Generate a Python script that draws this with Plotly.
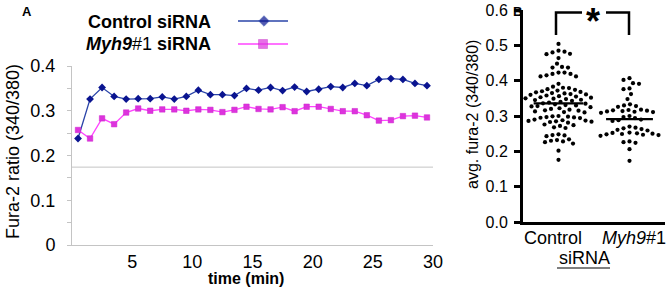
import plotly.graph_objects as go

# ---------------- DATA ----------------
time_min = [t + 0.5 for t in range(30)]
control_ratio = [0.238, 0.326, 0.352, 0.332, 0.326, 0.327, 0.327, 0.331, 0.326, 0.332,
                 0.346, 0.336, 0.336, 0.334, 0.350, 0.346, 0.352, 0.345, 0.353, 0.343,
                 0.348, 0.354, 0.352, 0.361, 0.356, 0.370, 0.372, 0.370, 0.361, 0.356]
myh9_ratio = [0.257, 0.238, 0.283, 0.270, 0.296, 0.305, 0.300, 0.303, 0.303, 0.300,
              0.303, 0.302, 0.297, 0.302, 0.309, 0.304, 0.303, 0.308, 0.299, 0.309,
              0.309, 0.304, 0.299, 0.299, 0.290, 0.278, 0.279, 0.288, 0.289, 0.285]
reference_level = 0.174
x_ticks_a = [5, 10, 15, 20, 25, 30]
y_ticks_a = [0, 0.1, 0.2, 0.3, 0.4]
y_ticklabels_a = ["0", "0.1", "0.2", "0.3", "0.4"]

control_avg = [0.504,
               0.485, 0.482, 0.480, 0.476, 0.475,
               0.464, 0.448,
               0.439, 0.437, 0.437,
               0.423, 0.423, 0.419, 0.419, 0.415, 0.412, 0.412,
               0.391,
               0.383, 0.380, 0.379, 0.376, 0.374,
               0.372, 0.370, 0.368, 0.367, 0.365, 0.364, 0.362, 0.361, 0.360, 0.358,
               0.356, 0.355, 0.353, 0.352, 0.350, 0.349, 0.348, 0.346, 0.345, 0.343,
               0.340, 0.338, 0.336, 0.335, 0.333, 0.331, 0.330, 0.328, 0.327, 0.325,
               0.322, 0.320, 0.318, 0.316, 0.315, 0.313, 0.311, 0.310,
               0.300, 0.299, 0.298, 0.297, 0.296, 0.295, 0.294,
               0.290, 0.288, 0.287, 0.286, 0.285, 0.284, 0.283, 0.281,
               0.276, 0.274, 0.272, 0.268, 0.266,
               0.248, 0.246, 0.245, 0.243,
               0.234, 0.232, 0.230, 0.228, 0.226, 0.222,
               0.202, 0.176]
myh9_avg = [0.407, 0.402, 0.393, 0.391, 0.378, 0.376, 0.362, 0.348,
            0.333, 0.330, 0.328, 0.326,
            0.318, 0.317, 0.316, 0.315, 0.314, 0.313, 0.312, 0.311, 0.309,
            0.300, 0.297, 0.294, 0.290, 0.288, 0.286,
            0.270, 0.267, 0.265, 0.263, 0.261, 0.259,
            0.253, 0.252, 0.251, 0.250, 0.249, 0.248, 0.247, 0.246, 0.244,
            0.228, 0.226, 0.224, 0.206, 0.173]
control_mean = 0.336
myh9_mean = 0.291
y_ticks_b = [0, 0.1, 0.2, 0.3, 0.4, 0.5, 0.6]

# ---------------- LAYOUT HELPERS ----------------
W, H = 669, 292
FONT = "Liberation Sans, Arial, sans-serif"


def pxx(x):
    return x / W


def pxy(y):
    return 1 - y / H


def beeswarm(vals, center, xscale=71.0, yscale=353.0, sep=5.8):
    placed = []
    xs = [0.0] * len(vals)
    order = sorted(range(len(vals)), key=lambda i: -vals[i])
    flip = 1
    for i in order:
        yv = vals[i] * yscale
        best = None
        k = 0
        while best is None:
            cands = [0.0] if k == 0 else [flip * k * 0.5, -flip * k * 0.5]
            for dx in cands:
                if all((dx - a) ** 2 + (yv - b) ** 2 >= sep ** 2 for a, b in placed):
                    best = dx
                    break
            k += 1
        flip = -flip
        placed.append((best, yv))
        xs[i] = center + best / xscale
    return xs


CTRL_LINE = "#2a44a8"
CTRL_MARK = "#0a1490"
MYH_LINE = "#ff44ff"
MYH_MARK = "#dd33dd"

fig = go.Figure()

# Panel A
fig.add_trace(go.Scatter(x=time_min, y=control_ratio, mode="lines+markers",
                         line=dict(color=CTRL_LINE, width=1.3),
                         marker=dict(symbol="diamond", size=6, color=CTRL_MARK),
                         xaxis="x", yaxis="y", showlegend=False))
fig.add_trace(go.Scatter(x=time_min, y=myh9_ratio, mode="lines+markers",
                         line=dict(color=MYH_LINE, width=1.3),
                         marker=dict(symbol="square", size=5.5, color=MYH_MARK,
                                     line=dict(color="#cc22cc", width=0.5)),
                         xaxis="x", yaxis="y", showlegend=False))

# Panel B
fig.add_trace(go.Scatter(x=beeswarm(control_avg, 0), y=control_avg, mode="markers",
                         marker=dict(size=4.2, color="black"),
                         xaxis="x2", yaxis="y2", showlegend=False))
fig.add_trace(go.Scatter(x=beeswarm(myh9_avg, 1), y=myh9_avg, mode="markers",
                         marker=dict(size=4.2, color="black"),
                         xaxis="x2", yaxis="y2", showlegend=False))
fig.add_trace(go.Scatter(x=[-0.35, 0.35], y=[control_mean, control_mean], mode="lines",
                         line=dict(color="black", width=2.2),
                         xaxis="x2", yaxis="y2", showlegend=False))
fig.add_trace(go.Scatter(x=[0.67, 1.33], y=[myh9_mean, myh9_mean], mode="lines",
                         line=dict(color="black", width=2.2),
                         xaxis="x2", yaxis="y2", showlegend=False))

# Legend samples in a pixel overlay
fig.add_trace(go.Scatter(x=[238, 264, 288], y=[21, 21, 21], mode="lines+markers",
                         line=dict(color=CTRL_LINE, width=1.5),
                         marker=dict(symbol="diamond", size=[0, 8, 0], color=CTRL_MARK),
                         xaxis="x3", yaxis="y3", showlegend=False, hoverinfo="skip"))
fig.add_trace(go.Scatter(x=[238, 263, 288], y=[44, 44, 44], mode="lines+markers",
                         line=dict(color=MYH_LINE, width=1.5),
                         marker=dict(symbol="square", size=[0, 9, 0], color=MYH_MARK,
                                     line=dict(color="#c020c0", width=0.6)),
                         xaxis="x3", yaxis="y3", showlegend=False, hoverinfo="skip"))

gray = "#c4c4c4"
fig.update_layout(
    width=W, height=H, autosize=False,
    margin=dict(l=0, r=0, t=0, b=0, pad=0),
    paper_bgcolor="white", plot_bgcolor="rgba(0,0,0,0)",
    font=dict(family=FONT, color="black"),
    xaxis=dict(domain=[pxx(72), pxx(433)], range=[0, 30], tickvals=x_ticks_a,
               showline=True, linecolor=gray, linewidth=1, ticks="outside", ticklen=0,
               ticklabelstandoff=0, automargin=False,
               tickfont=dict(size=18), showgrid=False, zeroline=False, anchor="y"),
    yaxis=dict(domain=[pxy(245), pxy(66)], range=[0, 0.4], tickvals=y_ticks_a,
               ticktext=y_ticklabels_a, showline=True, linecolor=gray, linewidth=1,
               ticks="outside", ticklen=4, tickcolor=gray, ticklabelstandoff=8,
               automargin=False,
               minor=dict(dtick=0.05, ticks="outside", ticklen=4, tickcolor=gray),
               tickfont=dict(size=18), showgrid=False, zeroline=False, anchor="x"),
    xaxis2=dict(domain=[pxx(523), pxx(665)], range=[-0.5, 1.5], showline=True,
                linecolor="black", linewidth=3, showticklabels=False, ticks="",
                automargin=False,
                showgrid=False, zeroline=False, anchor="y2"),
    yaxis2=dict(domain=[pxy(222), pxy(10)], range=[0, 0.6], tickvals=y_ticks_b,
                tickformat=".1f", showline=True, linecolor="black", linewidth=3,
                ticks="outside", ticklen=6, tickwidth=3, tickcolor="black",
                ticklabelstandoff=3, automargin=False,
                tickfont=dict(size=16), showgrid=False, zeroline=False, anchor="x2"),
    xaxis3=dict(domain=[0, 1], range=[0, W], visible=False, anchor="y3", automargin=False),
    yaxis3=dict(domain=[0, 1], range=[H, 0], visible=False, anchor="x3", automargin=False),
)

fig.add_shape(type="line", xref="x", yref="y", x0=0, x1=30,
              y0=reference_level, y1=reference_level, line=dict(color=gray, width=1))

# significance bracket
blk = dict(color="black", width=2.5)
fig.add_shape(type="path", xref="paper", yref="paper",
              path=f"M {pxx(556)},{pxy(35)} L {pxx(556)},{pxy(12.5)} L {pxx(582)},{pxy(12.5)}",
              line=blk)
fig.add_shape(type="path", xref="paper", yref="paper",
              path=f"M {pxx(606)},{pxy(12.5)} L {pxx(629)},{pxy(12.5)} L {pxx(629)},{pxy(35)}",
              line=blk)
# underline under siRNA
fig.add_shape(type="line", xref="paper", yref="paper", x0=pxx(557), x1=pxx(610),
              y0=pxy(268), y1=pxy(268), line=dict(color="black", width=1.2))


def ann(text, x, y, size, xanchor="center", yanchor="middle", angle=0):
    fig.add_annotation(text=text, x=pxx(x), y=pxy(y), xref="paper", yref="paper",
                       showarrow=False, xanchor=xanchor, yanchor=yanchor,
                       textangle=angle, font=dict(size=size, family=FONT, color="black"))


ann("<b>A</b>", 27, 12, 13)
ann("<b>B</b>", 517, 12, 13)
ann("<b>Control siRNA</b>", 213, 22, 18, xanchor="right")
ann("<b><i>Myh9</i></b>#1 <b>siRNA</b>", 213, 44, 18, xanchor="right")
ann("Fura-2 ratio (340/380)", 13, 152, 18, angle=-90)
ann("<b>time (min)</b>", 246, 278, 16)
ann("avg. fura-2 (340/380)", 472, 115, 16, angle=-90)
ann("<b>*</b>", 593, 22, 36)
ann("Control", 553, 238, 18)
ann("<i>Myh9</i>#1", 634, 238, 18)
ann("siRNA", 584, 258, 18)

fig.write_html("out.html", config={"displayModeBar": False},
               post_script="document.body.style.margin='0';document.body.style.overflow='hidden';")
